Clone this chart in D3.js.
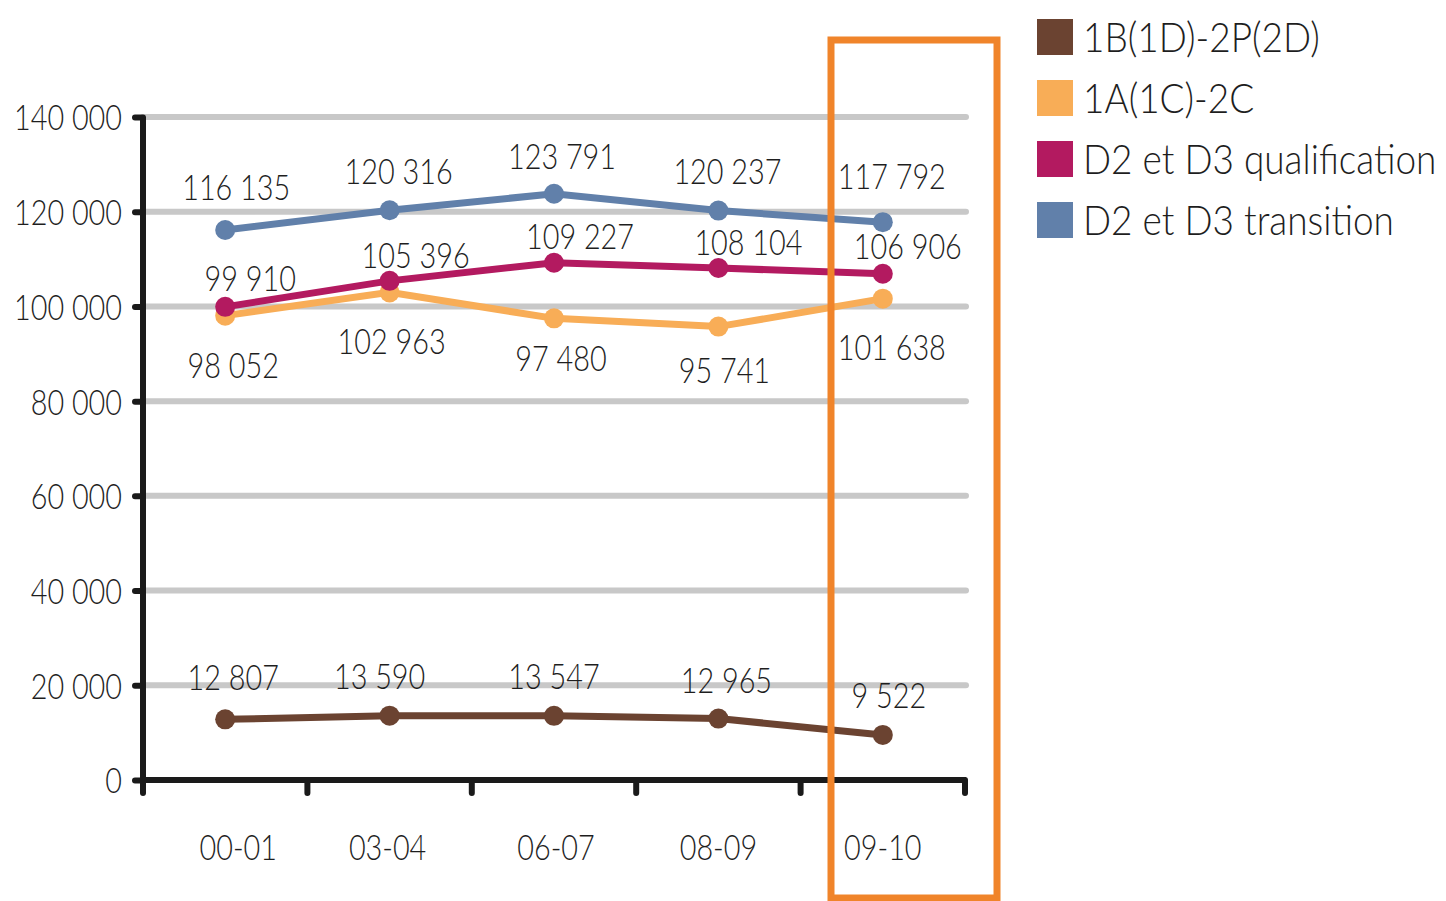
<!DOCTYPE html>
<html><head><meta charset="utf-8">
<script src="https://cdn.jsdelivr.net/npm/d3@7"></script>
<style>
html,body{margin:0;padding:0;background:#fff;}
svg{display:block;}
svg text{font-family:"Lato","Open Sans","DejaVu Sans",sans-serif;font-weight:300;}
</style></head>
<body><svg id="c" width="1446" height="901"></svg>
<script>
const categories = ["00-01","03-04","06-07","08-09","09-10"];
const seriesNames = ["1B(1D)-2P(2D)","1A(1C)-2C","D2 et D3 qualification","D2 et D3 transition"];
const brownValues = [12807,13590,13547,12965,9522];
const orangeValues = [98052,102963,97480,95741,101638];
const magentaValues = [99910,105396,109227,108104,106906];
const blueValues = [116135,120316,123791,120237,117792];
const yTicks = [0,20000,40000,60000,80000,100000,120000,140000];
const colors = ["#6b4331","#f8ad57","#b31a60","#6180aa"];

// label offsets (position styling, px) per series
const labelOffsets = [
  [[8,-42],[-10,-40],[0,-40],[8,-39],[6,-40]],
  [[8,49],[2,49],[7,40],[6,43],[9,48]],
  [[25,-29],[26,-26],[26,-27],[30,-26],[25,-28]],
  [[11,-43],[9,-39],[8,-38],[9,-40],[9,-46]]
];
const xLabelDx = [13,-2,2,0,0];

function condense(sel, sx){
  sel.each(function(){
    const t = d3.select(this);
    const xv = +(t.attr("x")||0);
    t.attr("x", xv/sx).attr("transform", `scale(${sx},1)`);
  });
}

const series = [brownValues,orangeValues,magentaValues,blueValues].map((v,i)=>({name:seriesNames[i],values:v,color:colors[i],offs:labelOffsets[i]}));

const svg = d3.select("#c");
const x = d3.scaleBand().domain(categories).range([143,965]);
const y = d3.scaleLinear().domain([0,140000]).range([780,117]);
const fmt = v => d3.format(",")(v).replace(/,/g," ");

// gridlines
svg.append("g").selectAll("line").data(yTicks.filter(d=>d>0)).join("line")
  .attr("x1",143).attr("x2",966).attr("y1",d=>y(d)).attr("y2",d=>y(d))
  .attr("stroke","#c8c8c8").attr("stroke-width",6).attr("stroke-linecap","round");

// y axis
const yAxis = svg.append("g").attr("transform","translate(143,0)")
  .call(d3.axisLeft(y).tickValues(yTicks).tickSize(8).tickPadding(13).tickFormat(fmt))
  .attr("font-family",null).attr("font-size",null);
yAxis.select(".domain").remove();
yAxis.selectAll(".tick line").attr("stroke","#1a1a1a").attr("stroke-width",6).attr("stroke-linecap","round");
yAxis.selectAll(".tick text").attr("font-size",36).attr("fill","#1e1e1e").attr("dy","0.36em").call(condense,0.8);
svg.append("line").attr("x1",143).attr("x2",143).attr("y1",117).attr("y2",783)
  .attr("stroke","#1a1a1a").attr("stroke-width",6);

// x axis
const xAxis = svg.append("g").attr("transform","translate(0,780)")
  .call(d3.axisBottom(x).tickSize(0).tickPadding(54))
  .attr("font-family",null).attr("font-size",null);
xAxis.select(".domain").remove();
xAxis.selectAll(".tick text").attr("font-size",36).attr("fill","#1e1e1e")
  .attr("x",(d,i)=>xLabelDx[i]).call(condense,0.8);
const xTickPos = categories.map(c=>x(c)).concat([x.range()[1]]);
svg.append("g").selectAll("line").data(xTickPos).join("line")
  .attr("x1",d=>d).attr("x2",d=>d).attr("y1",780).attr("y2",793)
  .attr("stroke","#1a1a1a").attr("stroke-width",6).attr("stroke-linecap","round");
svg.append("line").attr("x1",140).attr("x2",966).attr("y1",780).attr("y2",780)
  .attr("stroke","#1a1a1a").attr("stroke-width",6);

// series lines
const cx = c => x(c)+x.bandwidth()/2;
const line = d3.line().x((d,i)=>cx(categories[i])).y(d=>y(d));
const g = svg.append("g");
series.forEach(s=>{
  g.append("path").attr("d",line(s.values)).attr("fill","none").attr("stroke",s.color).attr("stroke-width",7);
  g.selectAll(null).data(s.values).join("circle")
    .attr("cx",(d,i)=>cx(categories[i])).attr("cy",d=>y(d)).attr("r",10).attr("fill",s.color);
});
// labels
series.forEach(s=>{
  svg.append("g").selectAll("text").data(s.values).join("text")
    .attr("x",(d,i)=>cx(categories[i])+s.offs[i][0]).attr("y",(d,i)=>y(d)+s.offs[i][1])
    .attr("text-anchor","middle").attr("dy","0.36em").attr("font-size",36).attr("fill","#1e1e1e")
    .text(fmt).call(condense,0.8);
});

// highlight box
svg.append("rect").attr("x",831).attr("y",40).attr("width",166).attr("height",858)
  .attr("fill","none").attr("stroke","#f0842a").attr("stroke-width",7);

// legend
const lg = svg.append("g").attr("transform","translate(1037,19)");
const items = lg.selectAll("g").data(series).join("g").attr("transform",(d,i)=>`translate(0,${i*61})`);
items.append("rect").attr("width",36).attr("height",36).attr("fill",d=>d.color);
items.append("text").attr("x",46).attr("y",18).attr("dy","0.36em").attr("font-size",42).attr("fill","#1e1e1e").text(d=>d.name).call(condense,0.88);
</script></body></html>
